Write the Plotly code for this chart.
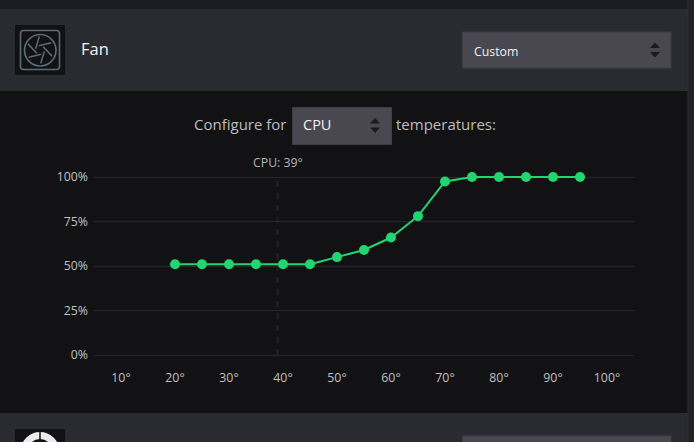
import plotly.graph_objects as go
import math

temps = [20, 25, 30, 35, 40, 45, 50, 55, 60, 65, 70, 75, 80, 85, 90, 95]
speeds = [51, 51, 51, 51, 51, 51, 55, 59, 66, 78, 97.5, 100, 100, 100, 100, 100]
x_ticks = [10, 20, 30, 40, 50, 60, 70, 80, 90, 100]
x_labels = ["10°", "20°", "30°", "40°", "50°", "60°", "70°", "80°", "90°", "100°"]
y_ticks = [0, 25, 50, 75, 100]
y_labels = ["0%", "25%", "50%", "75%", "100%"]
current_temp = 39
current_label = "CPU: 39°"

W, H = 694, 442
FONT = "Open Sans"


def px(x):
    return x / W


def py(y):
    return 1 - y / H


shapes = []


def rect(x0, y0, x1, y1, fill, line=None, layer="below"):
    shapes.append(dict(type="rect", xref="paper", yref="paper", layer=layer,
                       x0=px(x0), x1=px(x1), y0=py(y0), y1=py(y1), fillcolor=fill,
                       line=dict(color=line or fill, width=1 if line else 0)))


def seg(x0, y0, x1, y1, color, width=1.2):
    shapes.append(dict(type="line", xref="paper", yref="paper", layer="below",
                       x0=px(x0), x1=px(x1), y0=py(y0), y1=py(y1),
                       line=dict(color=color, width=width)))


def poly(pts, fill):
    d = "M" + " L".join(f"{px(a):.5f},{py(b):.5f}" for a, b in pts) + " Z"
    shapes.append(dict(type="path", xref="paper", yref="paper", layer="below", path=d,
                       fillcolor=fill, line=dict(width=0)))


def round_rect(x0, y0, x1, y1, r, color, width):
    def p(a, b):
        return f"{px(a):.5f},{py(b):.5f}"
    d = (f"M{p(x0 + r, y0)} L{p(x1 - r, y0)} Q{p(x1, y0)} {p(x1, y0 + r)} "
         f"L{p(x1, y1 - r)} Q{p(x1, y1)} {p(x1 - r, y1)} L{p(x0 + r, y1)} "
         f"Q{p(x0, y1)} {p(x0, y1 - r)} L{p(x0, y0 + r)} Q{p(x0, y0)} {p(x0 + r, y0)} Z")
    shapes.append(dict(type="path", xref="paper", yref="paper", layer="below", path=d,
                       fillcolor="rgba(0,0,0,0)", line=dict(color=color, width=width)))


def spinner(cx, cy):
    poly([(cx - 5, cy - 2), (cx + 5, cy - 2), (cx, cy - 7.5)], "#1b1b1e")
    poly([(cx - 5, cy + 2), (cx + 5, cy + 2), (cx, cy + 7.5)], "#1b1b1e")


# page panels
rect(0, 0, W, H, "#1c1d20")
rect(0, 9, 688, 91, "#2a2b30")
rect(0, 91, 688, 413, "#121214")
rect(0, 413, 688, H, "#2a2b30")
rect(688, 0, W, H, "#212226")
seg(688, 0, 688, H, "#303136", 1)

# fan icon
rect(15, 25, 65, 75, "#121214")
ic = "#5c6b76"
round_rect(20.5, 30.5, 59.5, 69.5, 3, ic, 1.6)
shapes.append(dict(type="circle", xref="paper", yref="paper", layer="below", x0=px(24.5), x1=px(56),
                   y0=py(34.5), y1=py(66), line=dict(color=ic, width=1.6), fillcolor="rgba(0,0,0,0)"))
for k in range(6):
    a = math.radians(60 * k + 15)
    b = a + math.radians(72)
    seg(40 + 4.5 * math.cos(a), 50 + 4.5 * math.sin(a), 40 + 13.5 * math.cos(b), 50 + 13.5 * math.sin(b), ic, 1.5)

# second icon, cut off at the bottom
rect(15, 429, 65, H, "#121214")
shapes.append(dict(type="circle", xref="paper", yref="paper", layer="below", x0=px(24), x1=px(56),
                   y0=py(435.5), y1=py(467.5), line=dict(color="#ececec", width=7), fillcolor="rgba(0,0,0,0)"))
seg(40, 431, 40, H, "#121214", 1.5)

# selects
rect(462.5, 32, 671, 68, "#49474f", "#3d3d43")
spinner(655, 50)
rect(292.5, 107.5, 391.5, 144.5, "#49474f", "#3d3d43")
spinner(375, 125.5)
rect(462.5, 436, 671, H + 4, "#49474f", "#3d3d43")


def txt(x, y, s, size, color, anchor="left"):
    return dict(xref="paper", yref="paper", x=px(x), y=py(y), text=s, showarrow=False, borderpad=0,
                xanchor=anchor, yanchor="middle", font=dict(family=FONT, size=size, color=color))


annotations = [
    txt(80, 48.5, "Fan", 16.5, "#f2f2f2"),
    txt(472.5, 51, "Custom", 12.3, "#f2f2f2"),
    txt(192.5, 124, "Configure for", 15, "#bdbdbd"),
    txt(301.5, 124.5, "CPU", 14.5, "#f2f2f2"),
    txt(395.5, 124, "temperatures:", 15, "#bdbdbd"),
    dict(xref="x", yref="paper", x=current_temp, y=py(162), text=current_label, showarrow=False,
         borderpad=0, xanchor="center", yanchor="middle",
         font=dict(family=FONT, size=12.3, color="#b4b4b4")),
]

shapes.append(dict(type="line", xref="x", yref="y", x0=current_temp, x1=current_temp, y0=0, y1=100,
                   layer="below", line=dict(color="#222226", width=2, dash="6px,6px")))

fig = go.Figure(go.Scatter(
    x=temps, y=speeds, mode="lines+markers", cliponaxis=False, hoverinfo="skip",
    line=dict(color="#21d573", width=2),
    marker=dict(color="#21d573", size=10),
))
axis_font = dict(family=FONT, size=12.3, color="#c0c0c0")
fig.update_layout(
    width=W, height=H, margin=dict(l=0, r=0, t=0, b=0, pad=0, autoexpand=False), showlegend=False,
    paper_bgcolor="#121214", plot_bgcolor="rgba(0,0,0,0)",
    shapes=shapes, annotations=annotations,
    xaxis=dict(domain=[px(94), px(634)], range=[5, 105], tickmode="array", tickvals=x_ticks,
               ticktext=x_labels, showgrid=False, zeroline=False, showline=False, ticks="",
               tickfont=axis_font, ticklabelstandoff=12, automargin=False),
    yaxis=dict(domain=[py(356.78), py(175.22)], range=[-1, 101], tickmode="array", tickvals=y_ticks,
               ticktext=y_labels, showgrid=True, gridcolor="#27272b", gridwidth=1, zeroline=False,
               showline=False, ticks="", tickfont=axis_font, ticklabelstandoff=5, automargin=False),
)
fig.write_html("out.html", config=dict(displayModeBar=False),
               post_script="document.body.style.margin='0';document.body.style.overflow='hidden';")
